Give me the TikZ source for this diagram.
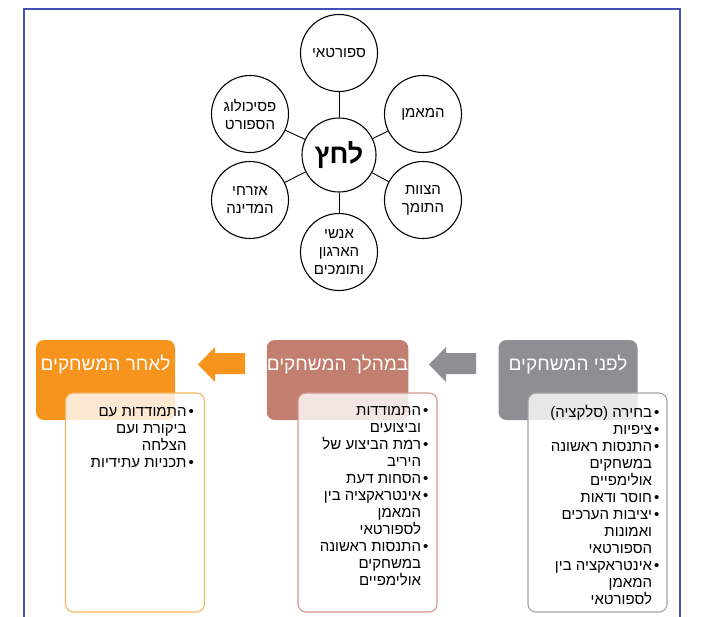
\documentclass[tikz,border=0pt]{standalone}
\usepackage{fontspec}
\newfontfamily\hebfont[Script=Hebrew]{Liberation Sans}
\TeXXeTstate=1
\usetikzlibrary{positioning}

\definecolor{frameblue}{HTML}{3F51B5}
\definecolor{beforegray}{HTML}{8E8F93}
\definecolor{beforeline}{HTML}{A3A3A6}
\definecolor{duringbrown}{HTML}{C27E6E}
\definecolor{duringline}{HTML}{CF9A8E}
\definecolor{afterorange}{HTML}{F7941D}
\definecolor{afterline}{HTML}{F9B466}

\newcommand{\heb}[1]{\beginR #1\endR}
\newcommand{\litem}[1]{\beginR•\kern2pt #1\endR}
\newcommand{\lcont}[1]{\beginR\hphantom{•\kern2pt}#1\endR}

\begin{document}
\begin{tikzpicture}[x=1pt,y=-1pt]
\tikzset{
  satnode/.style={circle,draw,line width=1.1pt,minimum size=77pt,inner sep=0pt,align=center,
    font=\hebfont\fontsize{15}{18}\selectfont},
  hubnode/.style={satnode,minimum size=74pt,font=\hebfont\bfseries\fontsize{27}{30}\selectfont},
  spoke/.style={line width=0.9pt},
  phasehead/.style={rounded corners=8pt,minimum width=139pt,minimum height=80pt,inner sep=0pt,
    text height=30pt,text depth=50pt,text=white,font=\hebfont\fontsize{19}{22}\selectfont},
  phasebody/.style={draw,rounded corners=8pt,line width=1.1pt,fill=white,fill opacity=0.8,
    minimum width=139pt,minimum height=219pt},
  phaselist/.style={inner sep=0pt,align=right,font=\hebfont\fontsize{15}{17}\selectfont}
}
\useasboundingbox (0,0) rectangle (722,616);

% frame
\draw[frameblue,line width=2pt] (24,630) -- (24,9) -- (680,9) -- (680,630);

% pressure wheel
\node[hubnode] (n_hub) at (339,155) {\heb{לחץ}};
\node[satnode] (n_athlete) at (339,53) {\heb{ספורטאי}};
\node[satnode] (n_coach) at (423,114) {\heb{המאמן}};
\node[satnode] (n_staff) at (423,200) {\heb{הצוות}\\\heb{התומך}};
\node[satnode] (n_org) at (339,252) {\heb{אנשי}\\\heb{הארגון}\\\heb{ותומכים}};
\node[satnode] (n_citizens) at (250,200) {\heb{אזרחי}\\\heb{המדינה}};
\node[satnode] (n_psych) at (250,114) {\heb{פסיכולוג}\\\heb{הספורט}};
\foreach \s in {n_athlete,n_coach,n_staff,n_org,n_citizens,n_psych}
  \draw[spoke] (n_hub) -- (\s);

% phases
\node[phasehead,fill=beforegray] (h_before) at (568,380) {\heb{לפני המשחקים}};
\node[phasehead,fill=duringbrown] (h_during) at (337.5,380) {\heb{במהלך המשחקים}};
\node[phasehead,fill=afterorange] (h_after) at (105.5,380) {\heb{לאחר המשחקים}};

\node[phasebody,draw=beforeline] (b_before) at (597.5,502.5) {};
\node[phasebody,draw=duringline] (b_during) at (367.5,502.5) {};
\node[phasebody,draw=afterline] (b_after) at (135,502.5) {};

\node[phaselist,below left=13pt and 8pt of b_before.north east] (l_before) {%
  \litem{בחירה (סלקציה)}\\
  \litem{ציפיות}\\
  \litem{התנסות ראשונה}\\
  \lcont{במשחקים}\\
  \lcont{אולימפיים}\\
  \litem{חוסר ודאות}\\
  \litem{יציבות הערכים}\\
  \lcont{ואמונות}\\
  \lcont{הספורטאי}\\
  \litem{אינטראקציה בין}\\
  \lcont{המאמן}\\
  \lcont{לספורטאי}};
\node[phaselist,below left=14pt and 9pt of b_during.north east] (l_during) {%
  \litem{התמודדות}\\
  \lcont{וביצועים}\\
  \litem{רמת הביצוע של}\\
  \lcont{היריב}\\
  \litem{הסחות דעת}\\
  \litem{אינטראקציה בין}\\
  \lcont{המאמן}\\
  \lcont{לספורטאי}\\
  \litem{התנסות ראשונה}\\
  \lcont{במשחקים}\\
  \lcont{אולימפיים}};
\node[phaselist,below left=15pt and 11pt of b_after.north east] (l_after) {%
  \litem{התמודדות עם}\\
  \lcont{ביקורת ועם}\\
  \lcont{הצלחה}\\
  \litem{תכניות עתידיות}};

% block arrows
\fill[beforegray] (476,353) -- (446,353) -- (446,347) -- (429,364.5) -- (446,382) -- (446,374) -- (476,374) -- cycle;
\fill[afterorange] (245,353) -- (215,353) -- (215,347) -- (198,364.5) -- (215,382) -- (215,374) -- (245,374) -- cycle;
\end{tikzpicture}
\end{document}
